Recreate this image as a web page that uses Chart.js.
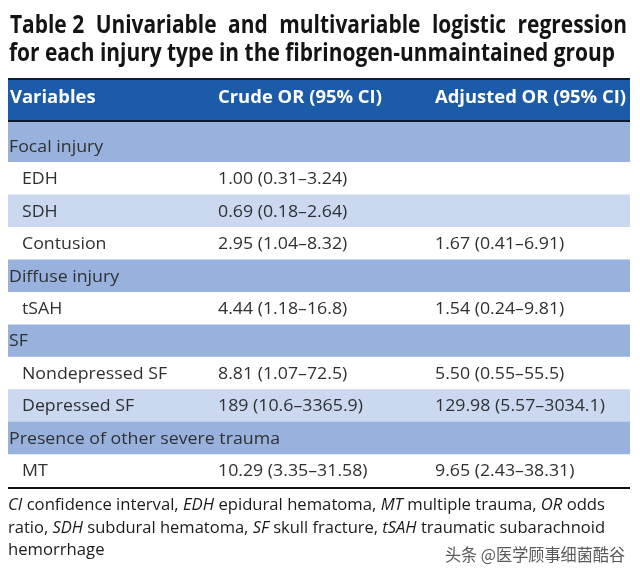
<!DOCTYPE html>
<html><head><meta charset="utf-8">
<script src="https://cdn.jsdelivr.net/npm/chart.js@4/dist/chart.umd.min.js"></script>
<style>html,body{margin:0;padding:0;background:#fff;overflow:hidden}#wrap{width:640px;height:579px;position:relative}</style>
</head><body><div id="wrap"><canvas id="c" width="640" height="579"></canvas></div>
<script>
// ---- data ----
const titleLines = ['Table 2 Univariable and multivariable logistic regression', 'for each injury type in the fibrinogen-unmaintained group'];
const headers = ['Variables', 'Crude OR (95% CI)', 'Adjusted OR (95% CI)'];
const rows = ['Focal injury', 'EDH', 'SDH', 'Contusion', 'Diffuse injury', 'tSAH', 'SF', 'Nondepressed SF', 'Depressed SF', 'Presence of other severe trauma', 'MT'];
const rowIsGroup = [true, false, false, false, true, false, true, false, false, true, false];
const crudeOR = ['', '1.00 (0.31–3.24)', '0.69 (0.18–2.64)', '2.95 (1.04–8.32)', '', '4.44 (1.18–16.8)', '', '8.81 (1.07–72.5)', '189 (10.6–3365.9)', '', '10.29 (3.35–31.58)'];
const adjustedOR = ['', '', '', '1.67 (0.41–6.91)', '', '1.54 (0.24–9.81)', '', '5.50 (0.55–55.5)', '129.98 (5.57–3034.1)', '', '9.65 (2.43–38.31)'];
const footnoteLines = [
  [['CI', true], [' confidence interval, ', false], ['EDH', true], [' epidural hematoma, ', false], ['MT', true], [' multiple trauma, ', false], ['OR', true], [' odds', false]],
  [['ratio, ', false], ['SDH', true], [' subdural hematoma, ', false], ['SF', true], [' skull fracture, ', false], ['tSAH', true], [' traumatic subarachnoid', false]],
  [['hemorrhage', false]]
];
const watermark = '头条 @医学顾事细菌酷谷';

// ---- styles ----
const C_GROUP = '#98b2dd', C_LIGHT = '#cad9f0', C_WHITE = '#ffffff', C_HEAD = '#1c5ba7', C_LINE = '#0e1c2e';
const L = 8, R = 630;

// row colours derived from structure: group rows blue, items alternate white / light
const rowColors = [];
(function(){ let k = 0; rows.forEach((r, i) => { if (rowIsGroup[i]) { rowColors.push(C_GROUP); k = 0; } else { rowColors.push(k % 2 ? C_LIGHT : C_WHITE); k++; } }); })();

function scaledText(ctx, text, x, y, sx) { ctx.save(); ctx.translate(x, y); ctx.scale(sx, 1); ctx.fillText(text, 0, 0); ctx.restore(); }

const tablePlugin = {
  id: 'tableText',
  beforeDatasetsDraw(chart) {
    const ctx = chart.ctx, ca = chart.chartArea;
    ctx.save();
    // extend first group band up to header
    ctx.fillStyle = rowColors[0];
    ctx.fillRect(L, 122, R - L, ca.top - 122 + 1);
    // header
    ctx.fillStyle = C_LINE; ctx.fillRect(L, 78, R - L, 2);
    ctx.fillStyle = C_HEAD; ctx.fillRect(L, 80, R - L, 40);
    ctx.fillStyle = C_LINE; ctx.fillRect(L, 120, R - L, 2);
    ctx.restore();
  },
  afterDatasetsDraw(chart) {
    const ctx = chart.ctx, ca = chart.chartArea, ys = chart.scales.y;
    ctx.save();
    ctx.textBaseline = 'alphabetic'; ctx.textAlign = 'left';
    // title
    ctx.fillStyle = '#141414';
    ctx.font = 'bold 25px "Open Sans"';
    const sxT = 606 / ctx.measureText(titleLines[1]).width;
    scaledText(ctx, titleLines[1], 9, 61, sxT);
    const words = titleLines[0].split(' ');
    const tokens = [words[0] + ' ' + words[1]].concat(words.slice(2));
    const widths = tokens.map(t => ctx.measureText(t).width * sxT);
    const gap = (627 - 10 - widths.reduce((a, b) => a + b, 0)) / (tokens.length - 1);
    let x = 10;
    tokens.forEach((t, i) => { scaledText(ctx, t, x, 33, sxT); x += widths[i] + gap; });
    // header labels
    ctx.fillStyle = '#ffffff';
    ctx.font = 'bold 18px "Open Sans"';
    const sxH = 191 / ctx.measureText(headers[2]).width;
    scaledText(ctx, headers[0], 10, 103, sxH);
    scaledText(ctx, headers[1], 218, 103, sxH);
    scaledText(ctx, headers[2], 435, 103, sxH);
    // body
    ctx.fillStyle = '#303030';
    ctx.font = '17px "Open Sans"';
    const sxB = 271 / ctx.measureText(rows[9]).width;
    rows.forEach((r, i) => {
      const y = ys.getPixelForValue(i) + 5.5;
      scaledText(ctx, r, rowIsGroup[i] ? 9 : 22, y, sxB);
      if (crudeOR[i]) scaledText(ctx, crudeOR[i], 218, y, sxB);
      if (adjustedOR[i]) scaledText(ctx, adjustedOR[i], 435, y, sxB);
    });
    // bottom rule
    ctx.fillStyle = '#111'; ctx.fillRect(L, ca.bottom, R - L, 2);
    // footnote
    ctx.fillStyle = '#1a1a1a';
    const fn = it => (it ? 'italic ' : '') + '16px "Open Sans"';
    const lineW = line => line.reduce((s, [t, it]) => { ctx.font = fn(it); return s + ctx.measureText(t).width; }, 0);
    const sxF = 597 / lineW(footnoteLines[0]);
    const sxF2 = 597 / lineW(footnoteLines[1]);
    const baselines = [510, 533, 555];
    footnoteLines.forEach((line, li) => {
      const s = li === 1 ? sxF2 : sxF;
      let fx = 8;
      line.forEach(([t, it]) => { ctx.font = fn(it); scaledText(ctx, t, fx, baselines[li], s); fx += ctx.measureText(t).width * s; });
    });
    // watermark
    ctx.fillStyle = '#5a5a5a';
    ctx.font = '17px "Noto Sans CJK SC"';
    const wsx = 180 / ctx.measureText(watermark).width;
    scaledText(ctx, watermark, 445, 561, wsx);
    ctx.restore();
  }
};

new Chart(document.getElementById('c').getContext('2d'), {
  type: 'bar',
  data: { labels: rows, datasets: [{ data: rows.map(() => [0, 1]), backgroundColor: rowColors, borderWidth: 0, barPercentage: 1, categoryPercentage: 1 }] },
  options: {
    indexAxis: 'y', responsive: false, animation: false, events: [],
    layout: { padding: { left: L, right: 640 - R, top: 130, bottom: 92 } },
    scales: { x: { display: false, min: 0, max: 1 }, y: { display: false } },
    plugins: { legend: { display: false }, tooltip: { enabled: false }, title: { display: false } }
  },
  plugins: [tablePlugin]
});
</script></body></html>
